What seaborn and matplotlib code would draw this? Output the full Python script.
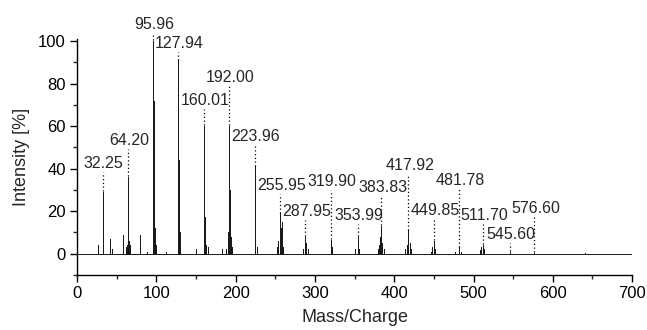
import numpy as np
import pandas as pd
import matplotlib
matplotlib.use("Agg")
import matplotlib.pyplot as plt
import seaborn as sns
from matplotlib.ticker import MultipleLocator

# ---- data ----
peak_mz = [27.0, 32.25, 33.2, 41.0, 44.0, 58.0, 62.0, 63.0, 64.2, 65.0, 66.5, 79.0, 88.0,
           95.96, 96.6, 97.2, 98.0, 99.0, 112.0, 127.94, 128.6, 129.3, 130.5, 150.0,
           160.01, 161.0, 162.5, 165.0, 183.0, 188.0, 190.0, 191.0, 192.0, 193.0, 194.0, 195.5,
           223.96, 225.0, 226.5, 252.0, 254.0, 255.95, 257.0, 258.0, 260.0,
           285.0, 287.95, 289.0, 291.0, 319.9, 322.0, 351.0, 353.99, 356.0,
           379.0, 381.0, 382.5, 383.83, 385.0, 387.0, 414.0, 416.0, 417.92, 419.5, 421.0,
           446.0, 448.0, 449.85, 452.0, 477.0, 481.78, 484.0, 508.0, 510.0, 511.7, 513.5,
           545.6, 576.6, 640.0]
peak_int = [4.0, 29.0, 8.0, 7.0, 2.0, 9.0, 3.0, 4.0, 36.0, 6.0, 4.0, 9.0, 1.0,
            100.0, 57.0, 72.0, 12.0, 4.0, 1.0, 91.0, 44.0, 10.0, 3.0, 2.0,
            60.0, 17.0, 4.0, 3.0, 2.0, 2.0, 6.0, 10.0, 60.0, 30.0, 8.0, 3.0,
            41.0, 17.0, 3.0, 3.0, 6.0, 19.0, 12.0, 15.0, 3.0,
            2.0, 8.0, 5.0, 2.0, 6.5, 3.0, 2.0, 8.0, 2.0,
            2.0, 4.0, 8.0, 13.0, 5.0, 2.0, 2.0, 4.0, 11.0, 5.0, 2.0,
            1.0, 3.0, 6.0, 2.0, 1.0, 3.0, 1.0, 1.5, 3.0, 4.0, 2.0,
            1.0, 0.5, 0.5]

label_mz = [32.25, 64.20, 95.96, 127.94, 160.01, 192.00, 223.96, 255.95, 287.95,
            319.90, 353.99, 383.83, 417.92, 449.85, 481.78, 511.70, 545.60, 576.60]
label_peak = [29, 36, 100, 91, 60, 60, 41, 19, 8, 6.5, 8, 13, 11, 6, 3, 4, 1, 0.5]
label_text = ["32.25", "64.20", "95.96", "127.94", "160.01", "192.00", "223.96", "255.95",
              "287.95", "319.90", "353.99", "383.83", "417.92", "449.85", "481.78",
              "511.70", "545.60", "576.60"]
# label vertical positions (layout)
label_y = [42.5, 53, 108, 99, 72, 83, 55, 32, 20, 34, 18, 31, 41.6, 20.5, 34.6, 18, 9, 21]

x_range = [0, 700]

# ---- build stick spectrum trace ----
xs, ys = [x_range[0]], [0.0]
for m, h in zip(peak_mz, peak_int):
    xs += [m, m, m]
    ys += [0.0, h, 0.0]
xs.append(x_range[1]); ys.append(0.0)
df = pd.DataFrame({"mz": xs, "intensity": ys})

sns.set_theme(style="ticks")
plt.rcParams['font.family'] = ['Liberation Sans', 'DejaVu Sans']

fig = plt.figure(figsize=(6.47, 3.30), dpi=100)
ax = fig.add_axes([0.119, 0.167, 0.858, 0.715])

sns.lineplot(data=df, x="mz", y="intensity", estimator=None, sort=False,
             color="#1a1a1a", linewidth=0.7, ax=ax)

for m, pk, ly, t in zip(label_mz, label_peak, label_y, label_text):
    ax.plot([m, m], [pk + 0.3, ly - 4.0], linestyle=(0, (1, 2)), color="black",
            linewidth=0.9, clip_on=False)
    ax.text(m + 1.5, ly, t, ha="center", va="center", fontsize=11.5, clip_on=False)

ax.set_xlim(0, 700)
ax.set_ylim(-10, 101)
ax.xaxis.set_major_locator(MultipleLocator(100))
ax.xaxis.set_minor_locator(MultipleLocator(50))
ax.yaxis.set_minor_locator(MultipleLocator(10))
ax.set_yticks([0, 20, 40, 60, 80, 100])
ax.tick_params(which="major", direction="out", length=5, width=1.0, labelsize=12,
               colors="black", pad=3)
ax.tick_params(which="minor", direction="out", length=3, width=1.0)
for s in ["top", "right"]:
    ax.spines[s].set_visible(False)
for s in ["left", "bottom"]:
    ax.spines[s].set_linewidth(1.0)
    ax.spines[s].set_color("black")

ax.set_xlabel("Mass/Charge", fontsize=13, labelpad=6)
ax.set_ylabel("Intensity [%]", fontsize=13, labelpad=6)

fig.savefig("out.png", dpi=100)
